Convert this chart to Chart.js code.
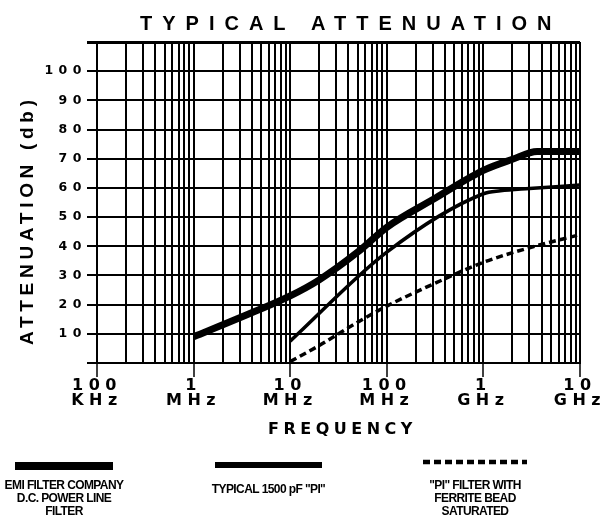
<!DOCTYPE html>
<html>
<head>
<meta charset="utf-8">
<script src="https://cdn.jsdelivr.net/npm/chart.js@4.4.1/dist/chart.umd.min.js"></script>
<style>
    html, body { margin: 0; padding: 0; background: #fff; }
    #wrap { width: 603px; height: 515px; }
</style>
</head>
<body>
<div id="wrap"><canvas id="attenChart" width="603" height="515"></canvas></div>
<script>
// X axis decades (Hz) and their two-line labels
const xDecades = [1e5, 1e6, 1e7, 1e8, 1e9, 1e10];
const xTickLabels = [['100', 'KHz'], ['1', 'MHz'], ['10', 'MHz'], ['100', 'MHz'], ['1', 'GHz'], ['10', 'GHz']];
const yTickLabels = ['10', '20', '30', '40', '50', '60', '70', '80', '90', '100'];

// EMI Filter Company D.C. power line filter
const emiFreq = [1e6, 3e6, 1e7, 2e7, 5e7, 1e8, 3e8, 1e9, 2e9, 3.6e9, 1e10];
const emiAtten = [9, 15.5, 23, 28.5, 38, 46.5, 56, 66, 69.8, 72.5, 72.5];

// Typical 1500 pF "PI"
const piFreq = [1e7, 1e8, 1e9, 1.5e9, 3e9, 1e10];
const piAtten = [7.5, 38, 58, 59, 59.8, 61];

// "PI" filter with ferrite bead saturated
const ferriteFreq = [1e7, 2e7, 5e7, 1e8, 3e8, 1e9, 3e9, 1e10];
const ferriteAtten = [0.5, 6, 14, 19.5, 27, 34.5, 39.5, 44];

const legendLabels = [
    ['EMI FILTER COMPANY', 'D.C. POWER LINE', 'FILTER'],
    ['TYPICAL 1500 pF "PI"'],
    ['"PI" FILTER WITH', 'FERRITE BEAD', 'SATURATED']
];

const toPoints = (xs, ys) => xs.map((x, i) => ({ x: x, y: ys[i] }));

// gridlines at 1..9 of every decade
const xGridValues = [];
xDecades.slice(0, -1).forEach(d => {
    for (let m = 1; m <= 9; m++) xGridValues.push(d * m);
});
xGridValues.push(xDecades[xDecades.length - 1]);

const TICK_FONT = '"DejaVu Sans", Verdana, sans-serif';

// titles, legend and letter-spaced tick text
const textPlugin = {
    id: 'chartText',
    beforeDraw(chart) {
        chart.ctx.letterSpacing = '5.5px';
    },
    afterDraw(chart) {
        const ctx = chart.ctx;
        const area = chart.chartArea;
        ctx.save();
        ctx.fillStyle = '#000';
        ctx.textBaseline = 'alphabetic';
        ctx.textAlign = 'left';

        // main title
        ctx.font = 'bold 20px "Liberation Sans", Arial, sans-serif';
        ctx.letterSpacing = '10px';
        ctx.fillText('TYPICAL ATTENUATION', area.left + 43, 30);

        // x axis title
        ctx.font = 'bold 16px ' + TICK_FONT;
        ctx.letterSpacing = '4.5px';
        ctx.fillText('FREQUENCY', 268, 434);

        // y axis title
        ctx.save();
        ctx.translate(33, 345);
        ctx.rotate(-Math.PI / 2);
        ctx.font = 'bold 19px "Liberation Sans", Arial, sans-serif';
        ctx.letterSpacing = '4.7px';
        ctx.fillText('ATTENUATION (db)', 0, 0);
        ctx.restore();

        // legend below the chart
        const items = [
            { x0: 15, x1: 113, y: 466, width: 8, textY: 486 },
            { x0: 215, x1: 322, y: 465, width: 6, textY: 490 },
            { x0: 423, x1: 527, y: 462, width: 4.5, textY: 486 }
        ];
        ctx.letterSpacing = '-0.6px';
        ctx.textAlign = 'center';
        ctx.textBaseline = 'middle';
        ctx.font = 'bold 12px "Liberation Sans", Arial, sans-serif';
        items.forEach((item, i) => {
            const ds = chart.data.datasets[i];
            ctx.beginPath();
            ctx.lineWidth = item.width;
            ctx.strokeStyle = ds.borderColor;
            ctx.setLineDash(ds.borderDash || []);
            ctx.moveTo(item.x0, item.y);
            ctx.lineTo(item.x1, item.y);
            ctx.stroke();
            ctx.setLineDash([]);
            const cx = (item.x0 + item.x1) / 2;
            legendLabels[i].forEach((line, j) => {
                ctx.fillText(line, cx, item.textY + j * 13);
            });
        });
        ctx.restore();
        ctx.letterSpacing = '0px';
    }
};

const ctx = document.getElementById('attenChart');

const chart = new Chart(ctx, {
    type: 'line',
    data: {
        datasets: [
            {
                label: legendLabels[0].join(' '),
                data: toPoints(emiFreq, emiAtten),
                borderColor: '#000',
                borderWidth: 7,
                cubicInterpolationMode: 'monotone',
                borderJoinStyle: 'round',
                pointRadius: 0
            },
            {
                label: legendLabels[1].join(' '),
                data: toPoints(piFreq, piAtten),
                borderColor: '#000',
                borderWidth: 3.5,
                cubicInterpolationMode: 'monotone',
                borderJoinStyle: 'round',
                pointRadius: 0
            },
            {
                label: legendLabels[2].join(' '),
                data: toPoints(ferriteFreq, ferriteAtten),
                borderColor: '#000',
                borderWidth: 3.5,
                borderDash: [7, 4],
                cubicInterpolationMode: 'monotone',
                pointRadius: 0
            }
        ]
    },
    options: {
        responsive: false,
        animation: false,
        events: [],
        layout: {
            padding: { top: 42, right: 23, left: 0, bottom: 0 }
        },
        plugins: {
            legend: { display: false },
            title: { display: false },
            tooltip: { enabled: false }
        },
        scales: {
            x: {
                type: 'logarithmic',
                min: xDecades[0],
                max: xDecades[xDecades.length - 1],
                afterBuildTicks: scale => {
                    scale.ticks = xGridValues.map(v => ({ value: v }));
                },
                afterFit: scale => {
                    scale.height = 152;
                },
                grid: {
                    color: '#000',
                    lineWidth: 2,
                    tickLength: 14,
                    tickColor: c => xDecades.includes(c.tick.value) ? '#000' : 'rgba(0,0,0,0)',
                    tickWidth: 1.5
                },
                border: { display: true, color: '#000', width: 2 },
                ticks: {
                    autoSkip: false,
                    maxRotation: 0,
                    minRotation: 0,
                    padding: 1.5,
                    color: '#000',
                    font: { family: TICK_FONT, weight: 'bold', size: 16, lineHeight: 0.94 },
                    callback: value => {
                        const idx = xDecades.indexOf(value);
                        return idx >= 0 ? xTickLabels[idx] : '';
                    }
                }
            },
            y: {
                min: 0,
                max: 110,
                afterFit: scale => {
                    scale.width = 97;
                },
                grid: {
                    color: '#000',
                    lineWidth: c => c.tick.value === 110 ? 3 : 2,
                    tickLength: 10
                },
                border: { display: true, color: '#000', width: 2 },
                ticks: {
                    stepSize: 10,
                    padding: 0,
                    color: '#000',
                    font: { family: TICK_FONT, weight: 'bold', size: 12.5 },
                    callback: value => yTickLabels.includes(String(value)) ? String(value) : ''
                }
            }
        }
    },
    plugins: [textPlugin]
});
</script>
</body>
</html>
